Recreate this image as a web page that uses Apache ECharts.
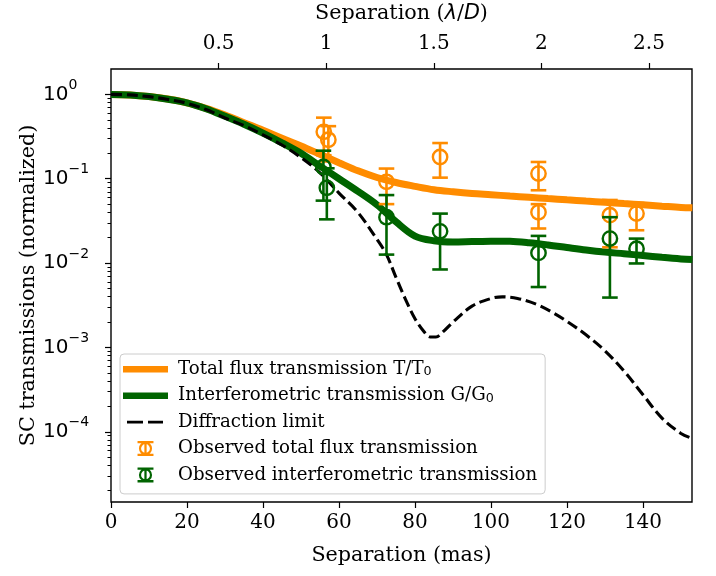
<!DOCTYPE html>
<html>
<head>
<meta charset="utf-8">
<script src="https://cdn.jsdelivr.net/npm/echarts@6/dist/echarts.min.js"></script>
<style>html,body{margin:0;padding:0;background:#fff;}#c{width:716px;height:576px;}</style>
</head>
<body>
<div id="c"></div>
<script>
// ---- data (separation in mas) ----
const curveSep = [0, 5, 10, 15, 20, 25, 30, 35, 40, 45, 50, 55, 60, 65, 70, 75, 80, 85, 90, 95, 100, 105, 110, 115, 120, 125, 130, 135, 140, 145, 150, 153];
const totalFlux = [1.0, 0.986, 0.944, 0.881, 0.794, 0.684, 0.569, 0.462, 0.376, 0.302, 0.245, 0.195, 0.155, 0.124, 0.1035, 0.0902, 0.0813, 0.0741, 0.070, 0.0668, 0.0646, 0.0624, 0.0603, 0.0582, 0.0562, 0.0543, 0.0525, 0.0507, 0.0490, 0.0473, 0.0457, 0.0452];
const interfero = [1.0, 0.986, 0.942, 0.875, 0.794, 0.676, 0.550, 0.442, 0.347, 0.266, 0.200, 0.141, 0.100, 0.0708, 0.0490, 0.0309, 0.0209, 0.0184, 0.0178, 0.0180, 0.0182, 0.0181, 0.0174, 0.0164, 0.0153, 0.0143, 0.0135, 0.0129, 0.0123, 0.0117, 0.0112, 0.0110];
const diffSep = [0, 5, 10, 15, 20, 25, 30, 35, 40, 45, 50, 55, 60, 65, 70, 72.5, 75, 77.5, 80, 82.5, 84, 85.5, 87.5, 90, 95, 100, 103, 107, 112, 116, 120, 125, 130, 135, 140, 145, 150, 153];
const diffLimit = [1.0, 0.986, 0.940, 0.871, 0.785, 0.661, 0.525, 0.427, 0.331, 0.251, 0.178, 0.1175, 0.0676, 0.0398, 0.0191, 0.0126, 0.00676, 0.00372, 0.00219, 0.00151, 0.00133, 0.00133, 0.00155, 0.00200, 0.00309, 0.00380, 0.00398, 0.00380, 0.00324, 0.00263, 0.00204, 0.00141, 0.000912, 0.000525, 0.000275, 0.000145, 0.0000955, 0.0000832];

const obsTSep = [56.0, 57.2, 72.5, 86.6, 112.5, 112.5, 131.3, 138.3];
const obsTVal = [0.36, 0.29, 0.092, 0.181, 0.115, 0.040, 0.037, 0.0386];
const obsTLo  = [0.19, 0.16, 0.050, 0.103, 0.073, 0.0257, 0.0154, 0.0245];
const obsTHi  = [0.53, 0.42, 0.132, 0.265, 0.158, 0.050, 0.056, 0.0515];

const obsGSep = [55.9, 56.8, 72.5, 86.6, 112.5, 131.3, 138.3];
const obsGVal = [0.138, 0.078, 0.035, 0.0238, 0.0132, 0.0195, 0.0148];
const obsGLo  = [0.055, 0.033, 0.0126, 0.0084, 0.0052, 0.0039, 0.0099];
const obsGHi  = [0.215, 0.133, 0.064, 0.0386, 0.021, 0.035, 0.0195];

const masTicks = [0, 20, 40, 60, 80, 100, 120, 140];
const lodTicks = [0.5, 1, 1.5, 2, 2.5];
const yMajor = [1e-4, 1e-3, 1e-2, 1e-1, 1];
const yMinor = [2e-5,3e-5,4e-5,5e-5,6e-5,7e-5,8e-5,9e-5,2e-4,3e-4,4e-4,5e-4,6e-4,7e-4,8e-4,9e-4,2e-3,3e-3,4e-3,5e-3,6e-3,7e-3,8e-3,9e-3,2e-2,3e-2,4e-2,5e-2,6e-2,7e-2,8e-2,9e-2,0.2,0.3,0.4,0.5,0.6,0.7,0.8,0.9];
const lambdaOverD = 56.63; // mas per lambda/D

const names = ['Total flux transmission T/T0', 'Interferometric transmission G/G0', 'Diffraction limit', 'Observed total flux transmission', 'Observed interferometric transmission'];
const ORANGE = '#ff8c00', GREEN = '#006400';

const xMin = 0, xMax = 152.9, yMin = 1.47e-5, yMax = 2.0;

function logLabel(v) {
  const e = Math.round(Math.log10(v));
  return '{b|10}{s|' + String(e).replace('-', '\u2212') + '}';
}
function legendFmt(name) {
  if (/[TG]0$/.test(name)) return '{a|' + name.slice(0, -1) + '}{s|0}';
  return '{a|' + name + '}';
}

function errRender(color) {
  return function (params, api) {
    const x = api.value(0), y = api.value(1), lo = api.value(2), hi = api.value(3);
    const c = api.coord([x, y]), pl = api.coord([x, lo]), ph = api.coord([x, hi]);
    const cap = 7.8, lw = 2.6;
    const st = {stroke: color, lineWidth: lw, fill: null};
    return {type: 'group', children: [
      {type: 'line', shape: {x1: c[0], y1: ph[1], x2: c[0], y2: pl[1]}, style: st},
      {type: 'line', shape: {x1: c[0] - cap, y1: ph[1], x2: c[0] + cap, y2: ph[1]}, style: st},
      {type: 'line', shape: {x1: c[0] - cap, y1: pl[1], x2: c[0] + cap, y2: pl[1]}, style: st},
      {type: 'circle', shape: {cx: c[0], cy: c[1], r: 7.2}, style: {stroke: color, lineWidth: 2.4, fill: null}}
    ]};
  };
}

const errIcon = 'path://M0 0H17V2.5H0Z M0 13.5H17V16H0Z M7.3 0H9.7V16H7.3Z M15.5 8A7 7 0 1 1 1.5 8A7 7 0 1 1 15.5 8Z M13.2 8A4.7 4.7 0 1 0 3.8 8A4.7 4.7 0 1 0 13.2 8Z';
const thickIcon = 'path://M0 0H45V6.5H0Z';
const dashIcon = 'path://M0 0H0.01V2.9H0Z M4 0H20V2.9H4Z M25 0H40V2.9H25Z M44.99 0H45V2.9H44.99Z';

const serif = 'DejaVu Serif';
const chart = echarts.init(document.getElementById('c'), null, {renderer: 'canvas'});
chart.setOption({
  animation: false,
  backgroundColor: '#ffffff',
  textStyle: {fontFamily: serif, color: '#000'},
  grid: {left: 111, right: 24, top: 69, bottom: 74, show: true, borderColor: '#000', borderWidth: 1.4, backgroundColor: 'transparent', outerBoundsMode: 'none'},
  xAxis: [
    {type: 'value', position: 'bottom', min: xMin, max: xMax,
     name: 'Separation (mas)', nameLocation: 'middle', nameGap: 43, nameMoveOverlap: false,
     nameTextStyle: {fontSize: 20.7, color: '#000', fontFamily: serif},
     axisLine: {show: false}, splitLine: {show: false},
     axisTick: {show: true, length: 6, lineStyle: {color: '#000', width: 1.2}, customValues: masTicks},
     axisLabel: {fontSize: 20, color: '#000', fontFamily: serif, margin: 11, customValues: masTicks}},
    {type: 'value', position: 'top', min: 0, max: xMax / lambdaOverD,
     name: '{n|Separation (}{i|\u03bb}{n|/}{i|D}{n|)}', nameLocation: 'middle', nameGap: 45, nameMoveOverlap: false,
     nameTextStyle: {fontSize: 20.7, color: '#000', fontFamily: serif,
       rich: {n: {fontSize: 20.7, fontFamily: serif, color: '#000'}, i: {fontSize: 20.7, fontFamily: 'DejaVu Sans', fontStyle: 'italic', color: '#000'}}},
     axisLine: {show: false}, splitLine: {show: false},
     axisTick: {show: true, length: 6, lineStyle: {color: '#000', width: 1.2}, customValues: lodTicks},
     axisLabel: {fontSize: 20, color: '#000', fontFamily: serif, margin: 15, customValues: lodTicks}}
  ],
  yAxis: [
    {type: 'log', logBase: 10, min: yMin, max: yMax, position: 'left',
     name: 'SC transmissions (normalized)', nameLocation: 'middle', nameGap: 72, nameRotate: 90, nameMoveOverlap: false,
     nameTextStyle: {fontSize: 20.7, color: '#000', fontFamily: serif},
     axisLine: {show: false}, splitLine: {show: false},
     axisTick: {show: true, length: 6, lineStyle: {color: '#000', width: 1.2}, customValues: yMajor},
     axisLabel: {color: '#000', fontFamily: 'DejaVu Sans', align: 'left', margin: 68, customValues: yMajor, formatter: logLabel,
       rich: {
         b: {fontSize: 20, fontFamily: 'DejaVu Sans', color: '#000', lineHeight: 20},
         s: {fontSize: 14, fontFamily: 'DejaVu Sans', color: '#000', lineHeight: 14, verticalAlign: 'bottom', padding: [0, 0, 12, 0]}
       }}},
    {type: 'log', logBase: 10, min: yMin, max: yMax, position: 'left',
     axisLine: {show: false}, splitLine: {show: false}, axisLabel: {show: false},
     axisTick: {show: true, length: 3.5, lineStyle: {color: '#000', width: 1}, customValues: yMinor}}
  ],
  legend: {
    orient: 'vertical', left: 120, top: 354,
    itemWidth: 45, itemHeight: 15, itemGap: 8.4,
    padding: [6.3, 8, 10, 3],
    backgroundColor: 'rgba(255,255,255,0.8)', borderColor: '#cccccc', borderWidth: 1, borderRadius: 4,
    selectedMode: false,
    itemStyle: {borderWidth: 0},
    formatter: legendFmt,
    textStyle: {fontSize: 18.2, color: '#000', fontFamily: serif, padding: [0, 0, 0, 5],
      rich: {
        a: {fontSize: 18.2, fontFamily: serif, color: '#000', lineHeight: 18},
        s: {fontSize: 12.7, fontFamily: 'DejaVu Sans', color: '#000', lineHeight: 10, verticalAlign: 'bottom'}
      }},
    data: [
      {name: names[0], icon: thickIcon, itemStyle: {color: ORANGE, borderWidth: 0}},
      {name: names[1], icon: thickIcon, itemStyle: {color: GREEN, borderWidth: 0}},
      {name: names[2], icon: dashIcon, itemStyle: {color: '#000', borderWidth: 0}},
      {name: names[3], icon: errIcon, itemStyle: {color: ORANGE, borderWidth: 0}},
      {name: names[4], icon: errIcon, itemStyle: {color: GREEN, borderWidth: 0}}
    ]
  },
  series: [
    {name: names[0], type: 'line', showSymbol: false, symbol: 'none', smooth: 0.35,
     data: curveSep.map((s, i) => [s, totalFlux[i]]),
     itemStyle: {color: ORANGE, borderWidth: 0}, lineStyle: {color: ORANGE, width: 7}, z: 2},
    {name: names[1], type: 'line', showSymbol: false, symbol: 'none', smooth: 0.35,
     data: curveSep.map((s, i) => [s, interfero[i]]),
     itemStyle: {color: GREEN, borderWidth: 0}, lineStyle: {color: GREEN, width: 7}, z: 3},
    {name: names[2], type: 'line', showSymbol: false, symbol: 'none', smooth: 0.35,
     data: diffSep.map((s, i) => [s, diffLimit[i]]),
     itemStyle: {color: '#000', borderWidth: 0}, lineStyle: {color: '#000', width: 3.1, type: [11, 4.8]}, z: 4},
    {name: names[3], type: 'custom', renderItem: errRender(ORANGE), itemStyle: {color: ORANGE},
     encode: {x: 0, y: 1},
     data: obsTSep.map((s, i) => [s, obsTVal[i], obsTLo[i], obsTHi[i]]), z: 5},
    {name: names[4], type: 'custom', renderItem: errRender(GREEN), itemStyle: {color: GREEN},
     encode: {x: 0, y: 1},
     data: obsGSep.map((s, i) => [s, obsGVal[i], obsGLo[i], obsGHi[i]]), z: 6}
  ]
});
</script>
</body>
</html>
